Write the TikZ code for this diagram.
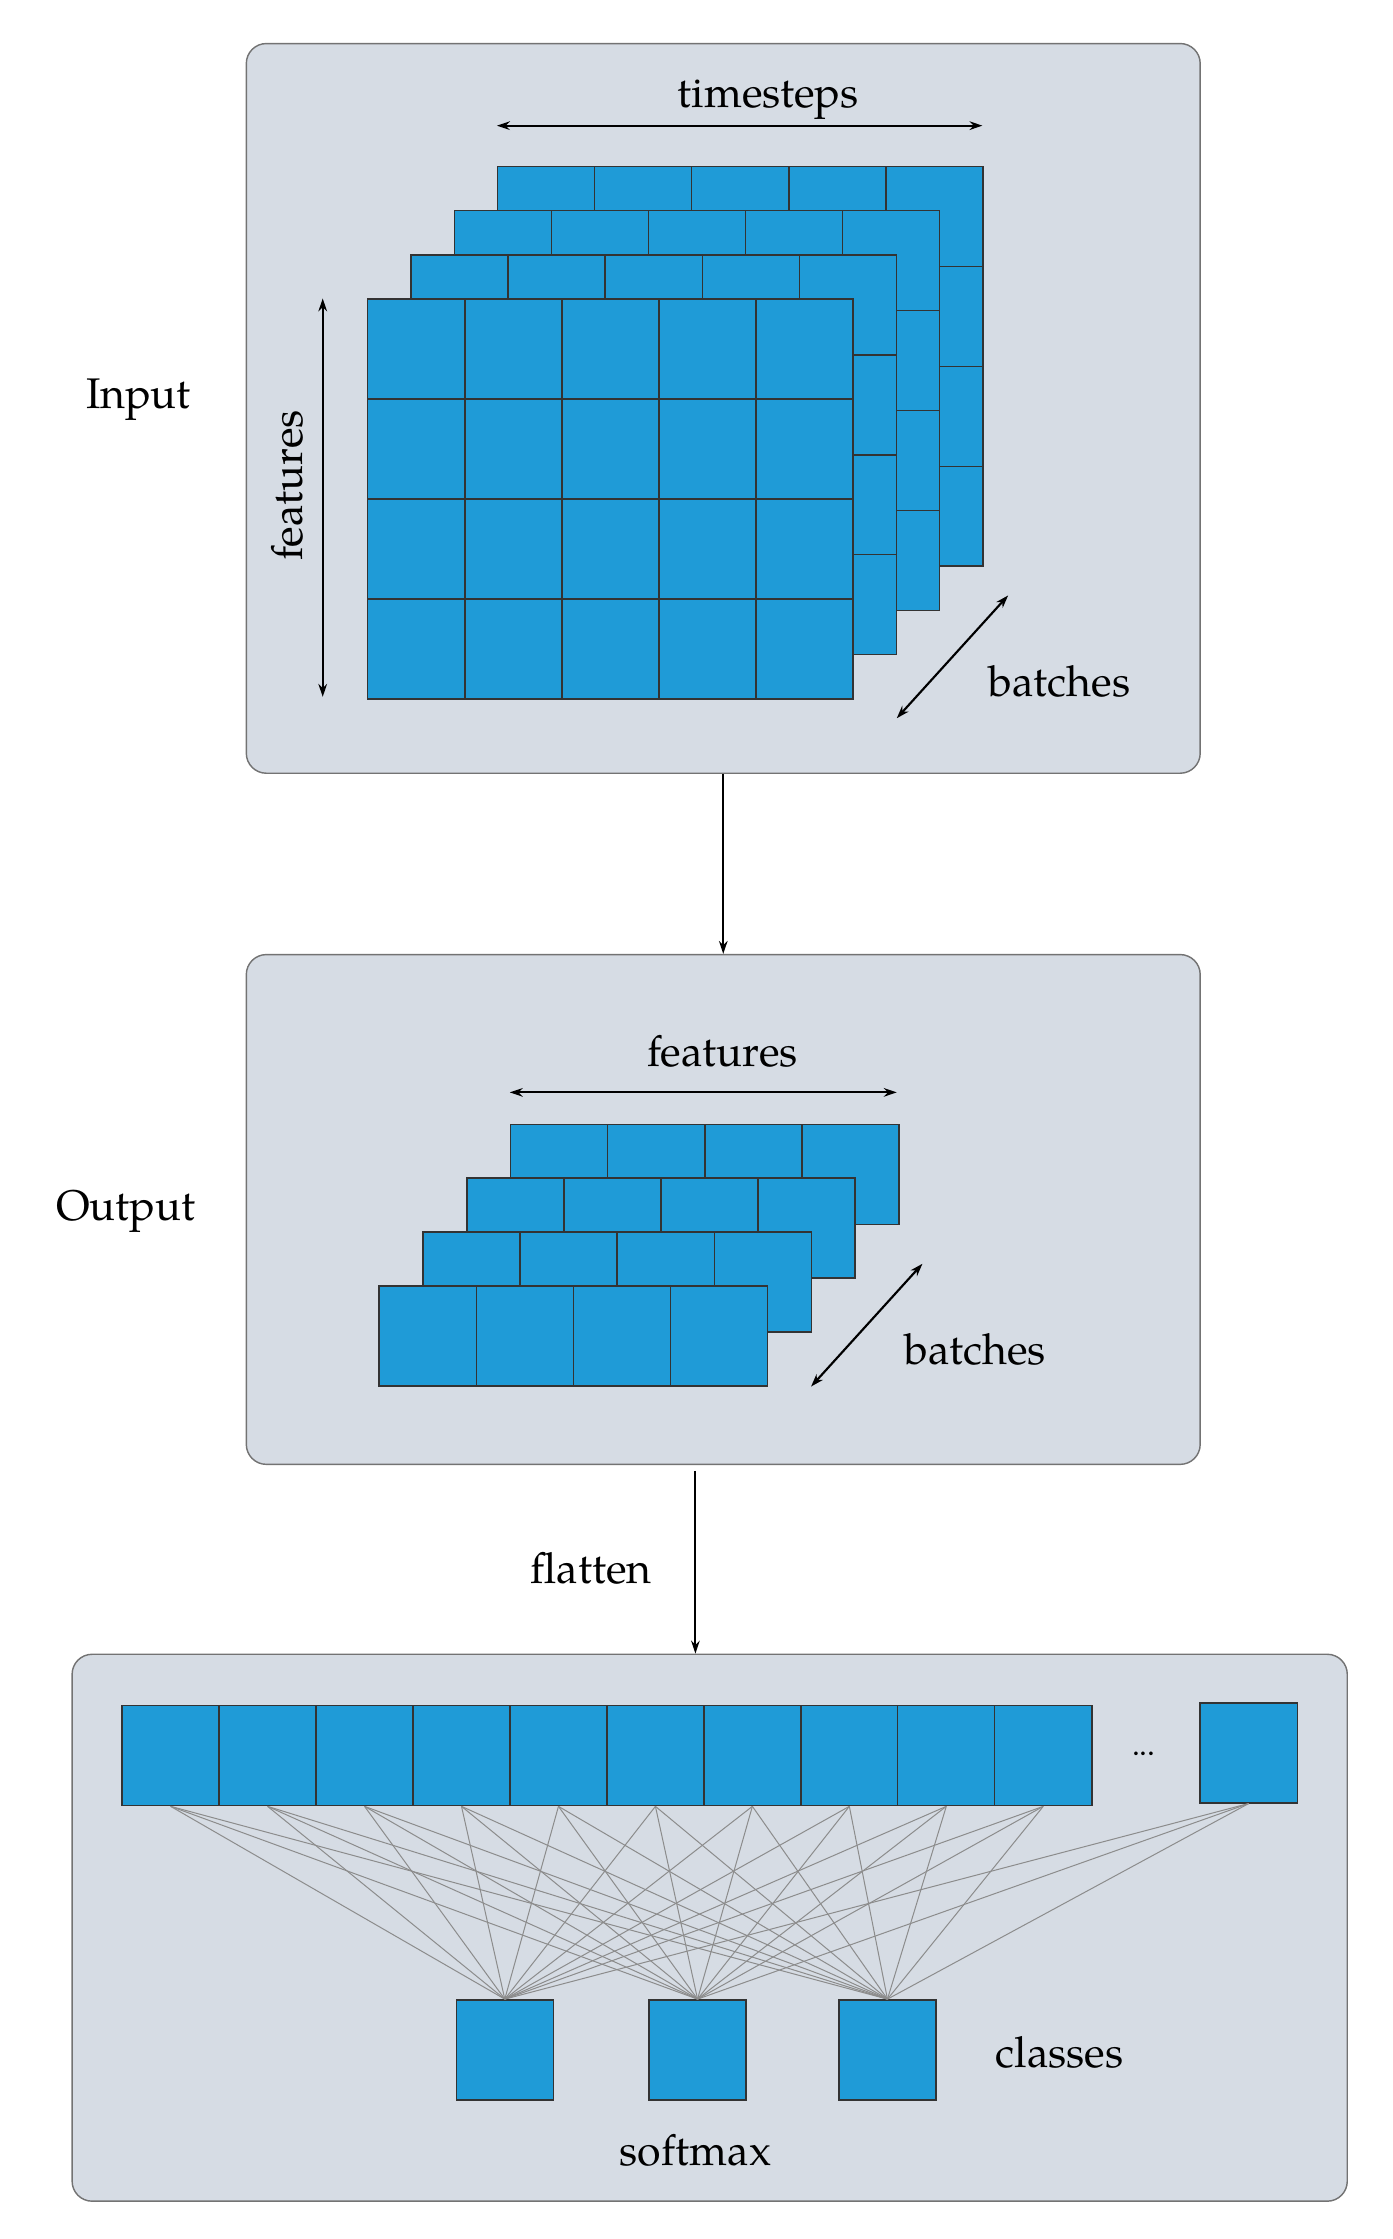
\documentclass[tikz,border=0pt]{standalone}
\usepackage{fontspec}
\setmainfont{TeX Gyre Pagella}
\usetikzlibrary{arrows.meta,calc}
\begin{document}
\begin{tikzpicture}[x=1pt,y=-1pt,
  panel/.style={draw=black!55,fill=panelc,rounded corners=14pt,line width=1pt,inner sep=0,anchor=north west},
  cell/.style={draw=black!80,fill=cellc,line width=1pt,minimum width=68pt,minimum height=70pt,inner sep=0,anchor=north west},
  arr/.style={line width=1.5pt,-{Stealth[length=9pt,width=6pt]}},
  darr/.style={line width=1.5pt,{Stealth[length=9pt,width=6pt]}-{Stealth[length=9pt,width=6pt]}},
  lbl/.style={font=\fontsize{30}{36}\selectfont},
  conn/.style={draw=black!45,line width=0.7pt}]
\definecolor{panelc}{HTML}{D6DCE4}
\definecolor{cellc}{HTML}{1F9BD7}
\useasboundingbox (0,0) rectangle (975,1568);
% panels
\node[panel,minimum width=668pt,minimum height=511pt] (p1) at (172,30) {};
\node[panel,minimum width=668pt,minimum height=357pt] (p2) at (172,668) {};
\node[panel,minimum width=893pt,minimum height=383pt] (p3) at (50,1158) {};
% input grids
\foreach \k in {3,2,1,0}{
  \foreach \i in {0,...,4}{\foreach \j in {0,...,3}{
    \node[cell] (in-\k-\i-\j) at ({257+30.3*\k+68*\i},{209-31*\k+70*\j}) {};}}}
\node[lbl] (inl) at (97,280) {Input};
\coordinate (ts1) at (348,88); \coordinate (ts2) at (688,88);
\draw[darr] (ts1) -- (ts2);
\node[lbl] (tsl) at (538,70) {timesteps};
\coordinate (fa1) at (226,209); \coordinate (fa2) at (226,488);
\draw[darr] (fa1) -- (fa2);
\node[lbl,rotate=90] (fal) at (201,340) {features};
\coordinate (ba1) at (628,503); \coordinate (ba2) at (706,417);
\draw[darr] (ba1) -- (ba2);
\node[lbl] (bal) at (742,477) {batches};
% output grids
\foreach \k in {3,2,1,0}{
  \foreach \i in {0,...,3}{
    \node[cell] (out-\k-\i) at ({265+30.7*\k+68*\i},{900-37.7*\k}) {};}}
\node[lbl] (outl) at (88,848) {Output};
\coordinate (of1) at (357,765); \coordinate (of2) at (628,765);
\draw[darr] (of1) -- (of2);
\node[lbl] (ofl) at (506,736) {features};
\coordinate (ob1) at (568,971); \coordinate (ob2) at (646,885);
\draw[darr] (ob1) -- (ob2);
\node[lbl] (obl) at (683,945) {batches};
% arrows between panels
\draw[arr] (p1.south) -- (p2.north);
\coordinate (fl) at (487,1030);
\draw[arr] (fl) -- (p3.north -| fl);
\node[lbl] (fll) at (414,1098) {flatten};
% bottom panel
\foreach \i in {0,...,9}{\node[cell] (t\i) at ({85+67.9*\i},1194) {};}
\node[cell] (t10) at (840,1192) {};
\node[font=\fontsize{22}{26}\selectfont] (dots) at (801,1228) {...};
\node[cell] (c1) at (319,1400) {};
\node[cell] (c2) at (454,1400) {};
\node[cell] (c3) at (587,1400) {};
\foreach \i in {0,...,10}{\foreach \c in {c1,c2,c3}{
  \draw[conn] (t\i.south) -- (\c.north);}}
\node[lbl] (cll) at (742,1437) {classes};
\node[lbl] (sml) at (487,1506) {softmax};
\end{tikzpicture}
\end{document}
